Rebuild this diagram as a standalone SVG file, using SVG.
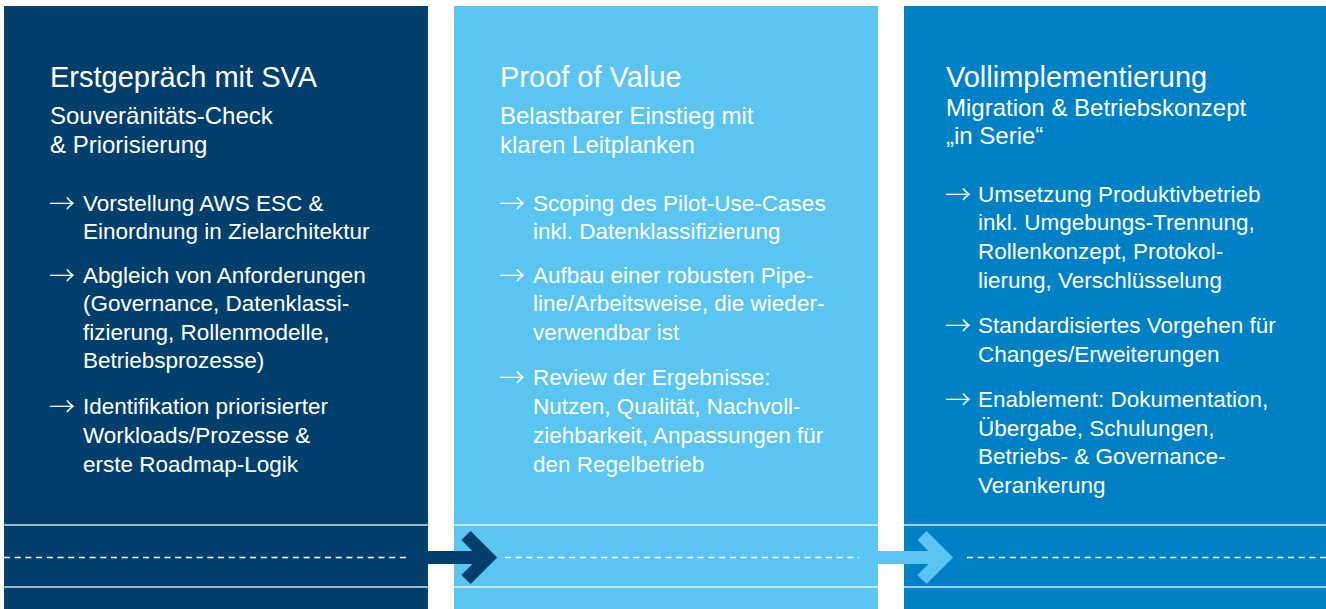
<svg xmlns="http://www.w3.org/2000/svg" width="1326" height="609" viewBox="0 0 1326 609">
<defs>
<style>
text{font-family:"Liberation Sans",Arial,sans-serif;fill:#ffffff;}
.t{font-size:29px;}
.s{font-size:24px;}
.b{font-size:22.5px;}
.ar{font-family:"Noto Sans CJK JP","Noto Sans CJK SC","DejaVu Sans",sans-serif;font-size:26px;font-weight:300;}
.sep{stroke:#ffffff;stroke-width:1.3;opacity:0.85;}
.dash{stroke:#ffffff;stroke-width:1.4;stroke-dasharray:6 4.7;}
</style>
</defs>
<rect width="1326" height="609" fill="#ffffff"/>
<g id="phase1">
<rect x="4" y="6" width="424" height="603" fill="#023f6d"/>
<line class="sep" x1="4" y1="525" x2="428" y2="525"/>
<line class="sep" x1="4" y1="587" x2="428" y2="587"/>
<line class="dash" x1="4" y1="557.5" x2="409" y2="557.5"/>
<text class="t" x="50" y="87">Erstgepräch mit SVA</text>
<text class="s" x="50" y="124">Souveränitäts-Check</text>
<text class="s" x="50" y="153">&amp; Priorisierung</text>
<text class="ar" x="49" y="212.5">→</text>
<text class="b" x="83" y="210.5">Vorstellung AWS ESC &amp;</text>
<text class="b" x="83" y="239">Einordnung in Zielarchitektur</text>
<text class="ar" x="49" y="284.5">→</text>
<text class="b" x="83" y="282.5">Abgleich von Anforderungen</text>
<text class="b" x="83" y="311">(Governance, Datenklassi-</text>
<text class="b" x="83" y="339.5">fizierung, Rollenmodelle,</text>
<text class="b" x="83" y="368">Betriebsprozesse)</text>
<text class="ar" x="49" y="416">→</text>
<text class="b" x="83" y="414">Identifikation priorisierter</text>
<text class="b" x="83" y="443">Workloads/Prozesse &amp;</text>
<text class="b" x="83" y="471.5">erste Roadmap-Logik</text>
</g>
<g id="phase2">
<rect x="454" y="6" width="424" height="603" fill="#5ac5f1"/>
<line class="sep" x1="454" y1="525" x2="878" y2="525"/>
<line class="sep" x1="454" y1="587" x2="878" y2="587"/>
<line class="dash" x1="505" y1="557.5" x2="859" y2="557.5"/>
<text class="t" x="500" y="87">Proof of Value</text>
<text class="s" x="500" y="124">Belastbarer Einstieg mit</text>
<text class="s" x="500" y="153">klaren Leitplanken</text>
<text class="ar" x="499" y="212.5">→</text>
<text class="b" x="533" y="210.5">Scoping des Pilot-Use-Cases</text>
<text class="b" x="533" y="239">inkl. Datenklassifizierung</text>
<text class="ar" x="499" y="284.5">→</text>
<text class="b" x="533" y="282.5">Aufbau einer robusten Pipe-</text>
<text class="b" x="533" y="311">line/Arbeitsweise, die wieder-</text>
<text class="b" x="533" y="339.5">verwendbar ist</text>
<text class="ar" x="499" y="387">→</text>
<text class="b" x="533" y="385">Review der Ergebnisse:</text>
<text class="b" x="533" y="414">Nutzen, Qualität, Nachvoll-</text>
<text class="b" x="533" y="443">ziehbarkeit, Anpassungen für</text>
<text class="b" x="533" y="471.5">den Regelbetrieb</text>
</g>
<g id="phase3">
<rect x="904" y="6" width="422" height="603" fill="#0080c5"/>
<line class="sep" x1="904" y1="525" x2="1326" y2="525"/>
<line class="sep" x1="904" y1="587" x2="1326" y2="587"/>
<line class="dash" x1="967" y1="557.5" x2="1326" y2="557.5"/>
<text class="t" x="946" y="86.5">Vollimplementierung</text>
<text class="s" x="946" y="116">Migration &amp; Betriebskonzept</text>
<text class="s" x="946" y="144">„in Serie“</text>
<text class="ar" x="945" y="203.5">→</text>
<text class="b" x="978" y="201.5">Umsetzung Produktivbetrieb</text>
<text class="b" x="978" y="230">inkl. Umgebungs-Trennung,</text>
<text class="b" x="978" y="259">Rollenkonzept, Protokol-</text>
<text class="b" x="978" y="287.5">lierung, Verschlüsselung</text>
<text class="ar" x="945" y="335">→</text>
<text class="b" x="978" y="333">Standardisiertes Vorgehen für</text>
<text class="b" x="978" y="361.5">Changes/Erweiterungen</text>
<text class="ar" x="945" y="408.5">→</text>
<text class="b" x="978" y="406.5">Enablement: Dokumentation,</text>
<text class="b" x="978" y="435.5">Übergabe, Schulungen,</text>
<text class="b" x="978" y="464">Betriebs- &amp; Governance-</text>
<text class="b" x="978" y="492.5">Verankerung</text>
</g>
<g id="connectors">
<g id="arrow1" fill="none" stroke="#023f6d">
<line x1="428" y1="557.5" x2="489" y2="557.5" stroke-width="13"/>
<polyline points="466,535.5 488,557.5 466,579.5" stroke-width="13" stroke-linejoin="miter" stroke-linecap="butt"/>
</g>
<g id="arrow2" fill="none" stroke="#5ac5f1">
<line x1="878" y1="557.5" x2="945" y2="557.5" stroke-width="13"/>
<polyline points="922,535.5 944,557.5 922,579.5" stroke-width="13" stroke-linejoin="miter" stroke-linecap="butt"/>
</g>
</g>
</svg>
